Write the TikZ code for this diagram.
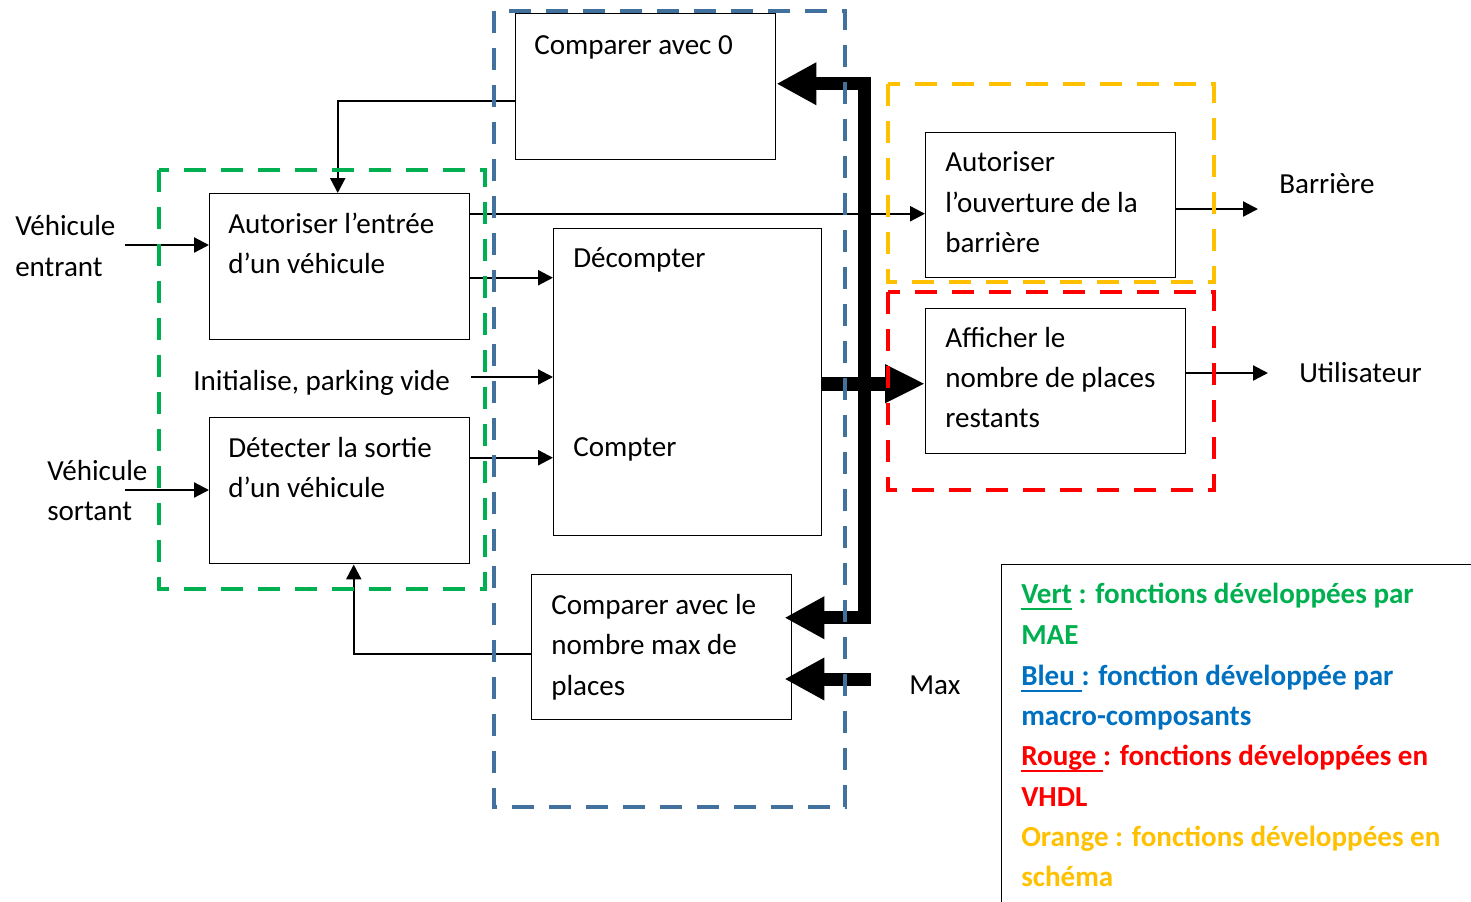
\documentclass[tikz,border=0pt]{standalone}
\usepackage{fontspec}
\setmainfont{Carlito}
\usetikzlibrary{arrows.meta}
\definecolor{cgreen}{RGB}{0,176,80}
\definecolor{cblue}{RGB}{65,113,156}
\definecolor{corange}{RGB}{255,192,0}
\definecolor{cred}{RGB}{255,0,0}
\definecolor{lblue}{RGB}{0,112,192}
\newcommand{\myul}[1]{\setbox0\hbox{#1}\rlap{\rule[-5pt]{\wd0}{1.4pt}}\box0\relax}
\tikzset{
  bigtip/.tip={Triangle[length=30pt,width=30pt]},
  midtip/.tip={Triangle[length=30pt,width=27pt]},
  smalltip/.tip={Triangle[length=11.25pt,width=11.25pt]}
}
\begin{document}
\begin{tikzpicture}[x=0.75pt,y=-0.75pt,
  box/.style={draw=black,line width=1.1pt,inner sep=0pt,anchor=north west},
  txt/.style={anchor=base west,inner sep=0pt,font=\fontsize{21.8}{26}\selectfont},
  leg/.style={anchor=base west,inner sep=0pt,font=\fontsize{21.8}{26}\selectfont\bfseries},
  arr/.style={line width=1.7pt,-smalltip},
  bus/.style={line width=9.75pt,line join=miter},
  grp/.style={line width=3pt,dash pattern=on 16.5pt off 11.25pt}
]
\useasboundingbox (0,0) rectangle (1471,901);

% boxes
\node[box,minimum width=195pt,minimum height=109.5pt] (c0) at (515,13) {};
\node[box,minimum width=195pt,minimum height=109.5pt] (ae) at (209,193) {};
\node[box,minimum width=195pt,minimum height=109.5pt] (ds) at (209,417) {};
\node[box,minimum width=201pt,minimum height=230.25pt] (dc) at (553,228) {};
\node[box,minimum width=195pt,minimum height=108.75pt] (cm) at (531,574) {};
\node[box,minimum width=187.5pt,minimum height=108.75pt] (ao) at (925,132) {};
\node[box,minimum width=195pt,minimum height=108.75pt] (af) at (925,308) {};
\node[box,minimum width=360pt,minimum height=258.75pt] (legend) at (1001,564) {};

% texts
\node[txt] (t01) at (534,54) {Comparer avec 0};
\node[txt] (t02) at (228,233) {Autoriser l’entrée};
\node[txt] (t03) at (228,273) {d’un véhicule};
\node[txt] (t04) at (15,235) {Véhicule};
\node[txt] (t05) at (15,276) {entrant};
\node[txt] (t06) at (193,390) {Initialise, parking vide};
\node[txt] (t07) at (228,457) {Détecter la sortie};
\node[txt] (t08) at (228,497) {d’un véhicule};
\node[txt] (t09) at (47,480) {Véhicule};
\node[txt] (t10) at (47,520) {sortant};
\node[txt] (t11) at (573,267) {Décompter};
\node[txt] (t12) at (573,456) {Compter};
\node[txt] (t13) at (551,614) {Comparer avec le};
\node[txt] (t14) at (551,654) {nombre max de};
\node[txt] (t15) at (551,695) {places};
\node[txt] (t16) at (945,171) {Autoriser};
\node[txt] (t17) at (945,212) {l’ouverture de la};
\node[txt] (t18) at (945,252) {barrière};
\node[txt] (t19) at (1279,193) {Barrière};
\node[txt] (t20) at (945,347) {Afficher le};
\node[txt] (t21) at (945,387) {nombre de places};
\node[txt] (t22) at (945,427) {restants};
\node[txt] (t23) at (1299,382) {Utilisateur};
\node[txt] (t24) at (909,694) {Max};

% legend
\node[leg,text=cgreen] (l1) at (1021,603) {\myul{Vert} : fonctions développées par};
\node[leg,text=cgreen] (l2) at (1021,644) {MAE};
\node[leg,text=lblue] (l3) at (1021,685) {\myul{Bleu\ }: fonction développée par};
\node[leg,text=lblue] (l4) at (1021,725) {macro-composants};
\node[leg,text=cred] (l5) at (1021,765) {\myul{Rouge\ }: fonctions développées en};
\node[leg,text=cred] (l6) at (1021,806) {VHDL};
\node[leg,text=corange] (l7) at (1021,846) {Orange : fonctions développées en};
\node[leg,text=corange] (l8) at (1021,886) {schéma};

% free ends
\coordinate (ve) at (125,245);
\coordinate (vs) at (125,490);
\coordinate (init) at (471,377);
\coordinate (bar) at (1258,209);
\coordinate (ut) at (1268,373);
\coordinate (mx) at (871,679);

% thin connectors
\draw[arr] (ve) -- (ve -| ae.west);
\draw[arr] (vs) -- (vs -| ds.west);
\draw[arr] (init) -- (init -| dc.west);
\draw[arr] ([yshift=39.75pt]ae.east) coordinate (k1) -- (k1 -| ao.west);
\draw[arr] ([yshift=-8.25pt]ae.east) coordinate (k2) -- (k2 -| dc.west);
\draw[arr] ([yshift=24.75pt]ds.east) coordinate (k3) -- (k3 -| dc.west);
\draw[arr] ([yshift=-10.5pt]c0.west) -| ([xshift=-1.5pt]ae.north);
\draw[arr] ([yshift=-5.25pt]cm.west) -| ([xshift=10.5pt]ds.south);
\draw[arr] (ao.east |- bar) -- (bar);
\draw[arr] (af.east |- ut) -- (ut);

% bus
\draw[bus,bigtip-bigtip,shorten >=-6pt] ([yshift=2.25pt]c0.east) -- ++(88,0) |- ([yshift=22.125pt]cm.east);
\draw[bus,line width=10.5pt,-midtip] ([yshift=-1.125pt]dc.east) coordinate (k4) -- (k4 -| af.west);
\draw[bus,-bigtip,shorten >=-6pt] (mx) -- (mx -| cm.east);

% groups
\draw[grp,cgreen] (159,170) rectangle (485,589);
\draw[grp,cblue] (494,11) rectangle (845,807);
\draw[grp,corange] (888,84) rectangle (1214,282);
\draw[grp,cred] (888,292) rectangle (1214,490);
\end{tikzpicture}
\end{document}
